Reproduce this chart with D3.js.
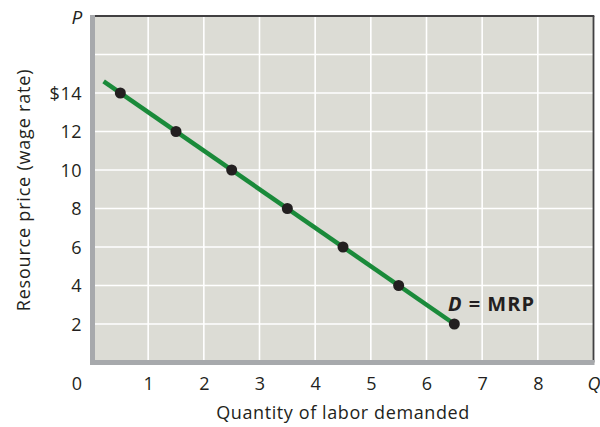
<!DOCTYPE html>
<html>
<head>
<meta charset="utf-8">
<script src="https://cdn.jsdelivr.net/npm/d3@7"></script>
<style>
  html, body { margin: 0; padding: 0; background: #ffffff; }
  svg { display: block; }
  text { font-family: "Open Sans", Lato, sans-serif; fill: #231f20; }
</style>
</head>
<body>
<svg id="chart" width="600" height="427"></svg>
<script>
// Labor demand schedule: quantity of labor vs. wage rate
const quantity = [0.5, 1.5, 2.5, 3.5, 4.5, 5.5, 6.5];
const wage = [14, 12, 10, 8, 6, 4, 2];
// Demand curve drawn slightly past the first plotted point
const curveQ = [0.2, 6.5];
const curveP = [14.6, 2];

const xTicks = [1, 2, 3, 4, 5, 6, 7, 8];
const xTickLabels = ["1", "2", "3", "4", "5", "6", "7", "8"];
const yTicks = [2, 4, 6, 8, 10, 12, 14];
const yTickLabels = ["2", "4", "6", "8", "10", "12", "$14"];
const yGrid = [2, 4, 6, 8, 10, 12, 14, 16];

const FONT = "'Open Sans', Lato, sans-serif";
const svg = d3.select("#chart");
const x = d3.scaleLinear().domain([0, 9]).range([92.5, 593.5]);
const y = d3.scaleLinear().domain([0, 18]).range([362.5, 16]);

// Plot panel
svg.append("rect")
  .attr("x", x(0)).attr("y", y(18))
  .attr("width", x(9) - x(0)).attr("height", y(0) - y(18))
  .attr("fill", "#dcdcd5");

// Grid
const grid = svg.append("g").attr("stroke", "#ffffff").attr("stroke-width", 1.6);
grid.selectAll(".vg").data(xTicks).join("line")
  .attr("x1", d => x(d)).attr("x2", d => x(d))
  .attr("y1", y(18)).attr("y2", y(0));
grid.selectAll(".hg").data(yGrid).join("line")
  .attr("x1", x(0)).attr("x2", x(9))
  .attr("y1", d => y(d)).attr("y2", d => y(d));

// Frame: dark top/right, thick gray left/bottom
svg.append("line").attr("x1", x(0)).attr("x2", x(9) + 0.8)
  .attr("y1", y(18)).attr("y2", y(18))
  .attr("stroke", "#414042").attr("stroke-width", 1.8);
svg.append("line").attr("x1", x(9)).attr("x2", x(9))
  .attr("y1", y(18)).attr("y2", y(0))
  .attr("stroke", "#414042").attr("stroke-width", 1.8);
svg.append("line").attr("x1", x(0)).attr("x2", x(0))
  .attr("y1", y(18) - 1).attr("y2", y(0) + 2.5)
  .attr("stroke", "#a7a9ac").attr("stroke-width", 5);
svg.append("line").attr("x1", x(0) - 2.5).attr("x2", x(9) + 1)
  .attr("y1", y(0)).attr("y2", y(0))
  .attr("stroke", "#a7a9ac").attr("stroke-width", 5);

// Tick labels via d3 axes (domain and tick marks hidden)
const xAxis = d3.axisBottom(x).tickValues(xTicks)
  .tickFormat((d, i) => xTickLabels[i]).tickSize(0).tickPadding(0);
const gx = svg.append("g").attr("transform", "translate(0, 389.5)").call(xAxis);
gx.select(".domain").remove();
gx.selectAll("text").attr("dy", 0).attr("font-size", 18)
  .attr("font-family", FONT).attr("fill", "#231f20");

const yAxis = d3.axisLeft(y).tickValues(yTicks)
  .tickFormat((d, i) => yTickLabels[i]).tickSize(0).tickPadding(0);
const gy = svg.append("g").attr("transform", "translate(82, 0)").call(yAxis);
gy.select(".domain").remove();
gy.selectAll("text").attr("dy", "0.36em").attr("font-size", 18)
  .attr("letter-spacing", 0.5)
  .attr("font-family", FONT).attr("fill", "#231f20");

svg.append("text").attr("x", 77).attr("y", 389.5).attr("text-anchor", "middle")
  .attr("font-size", 18).text("0");
svg.append("text").attr("x", 594).attr("y", 389.5).attr("text-anchor", "middle")
  .attr("font-size", 18).attr("font-style", "italic").text("Q");
svg.append("text").attr("x", 77).attr("y", 23.5).attr("text-anchor", "middle")
  .attr("font-size", 19).attr("font-style", "italic").text("P");

// Axis titles
svg.append("text").attr("x", 343).attr("y", 419).attr("text-anchor", "middle")
  .attr("font-size", 18).attr("letter-spacing", 0.6)
  .text("Quantity of labor demanded");
svg.append("text").attr("transform", "translate(30, 190) rotate(-90)")
  .attr("text-anchor", "middle").attr("font-size", 18).attr("letter-spacing", 0.8)
  .text("Resource price (wage rate)");

// Demand curve
const curve = curveQ.map((q, i) => [x(q), y(curveP[i])]);
svg.append("path").attr("d", d3.line()(curve))
  .attr("stroke", "#1a8a3a").attr("stroke-width", 4.5).attr("fill", "none");

svg.selectAll(".pt").data(quantity).join("circle")
  .attr("cx", d => x(d)).attr("cy", (d, i) => y(wage[i]))
  .attr("r", 5.5).attr("fill", "#231f20");

// Curve label
const lbl = svg.append("text").attr("x", 448).attr("y", 311)
  .attr("font-size", 20).attr("font-weight", "bold").attr("letter-spacing", 1);
lbl.append("tspan").attr("font-style", "italic").text("D");
lbl.append("tspan").text(" = MRP");
</script>
</body>
</html>
